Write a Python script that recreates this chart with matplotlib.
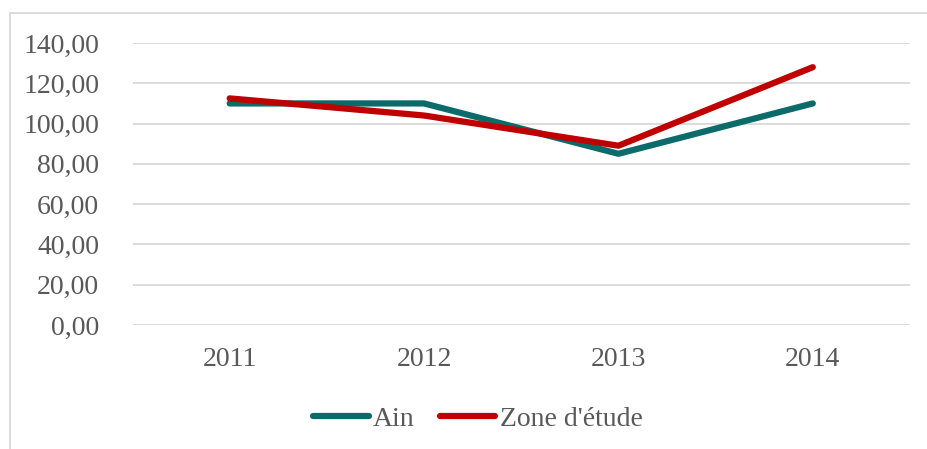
import matplotlib.pyplot as plt
from matplotlib.patches import Rectangle
from matplotlib.ticker import FuncFormatter

years = ['2011', '2012', '2013', '2014']
ain = [110.0, 110.0, 85.0, 110.0]
zone = [112.5, 104.0, 89.0, 128.0]

plt.rcParams['font.family'] = ['Liberation Serif', 'DejaVu Serif']

W, H = 927, 449
fig = plt.figure(figsize=(W / 100, H / 100), dpi=100)
ax = fig.add_axes([132.5 / W, (H - 325) / H, (910 - 132.5) / W, (325 - 43) / H])

# outer chart frame (left and top edges visible)
fig.patches.append(Rectangle((9.5 / W, -0.1), 1.0, (H - 13) / H + 0.1,
                             transform=fig.transFigure, fill=False,
                             edgecolor='#d9d9d9', linewidth=1.3))

x = range(len(years))
ax.plot(x, ain, color='#0b6b6b', linewidth=4.5, solid_capstyle='round',
        solid_joinstyle='round', label='Ain')
ax.plot(x, zone, color='#c00000', linewidth=4.5, solid_capstyle='round',
        solid_joinstyle='round', label="Zone d'étude")

ax.set_xlim(-0.5, 3.5)
ax.set_ylim(0, 140)
ax.set_yticks(range(0, 141, 20))
ax.yaxis.set_major_formatter(FuncFormatter(lambda v, p: f'{v:.2f}'.replace('.', ',')))
ax.set_xticks(list(x))
ax.set_xticklabels(years)

ax.grid(axis='y', color='#d9d9d9', linewidth=1.3)
ax.set_axisbelow(True)
for s in ax.spines.values():
    s.set_visible(False)
ax.tick_params(length=0, labelsize=20, labelcolor='#595959')
ax.tick_params(axis='y', pad=24)
ax.tick_params(axis='x', pad=16)

fig.legend(loc='center', bbox_to_anchor=(478 / W, (H - 419) / H), ncol=2,
           frameon=False, fontsize=20, labelcolor='#595959',
           handlelength=2.0, handletextpad=0.15, columnspacing=0.9)

fig.savefig('out.png', dpi=100)
